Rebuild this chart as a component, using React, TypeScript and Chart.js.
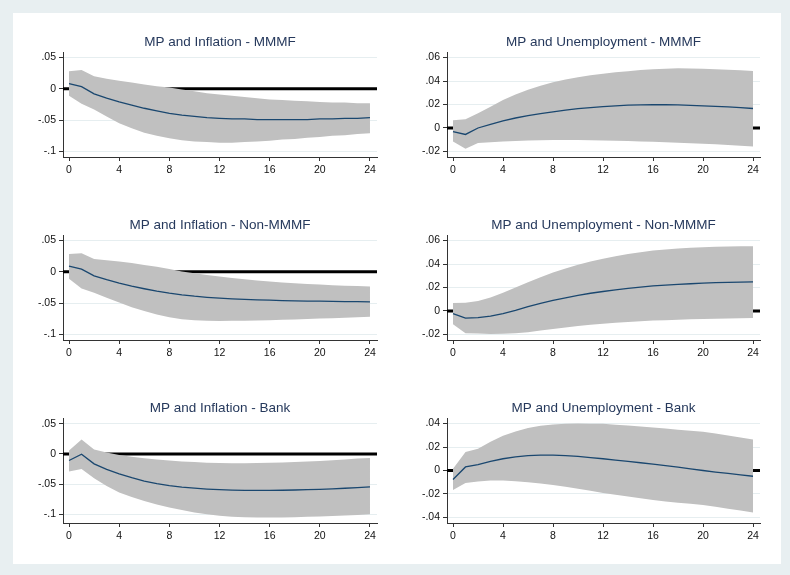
import React, { useEffect, useRef } from "react";
import { Chart, registerables } from "chart.js";

Chart.register(...registerables);

// ---------- data ----------
const horizon = [0, 1, 2, 3, 4, 5, 6, 7, 8, 9, 10, 11, 12, 13, 14, 15, 16, 17, 18, 19, 20, 21, 22, 23, 24];

// MP and Inflation - MMMF
const infMMMF = [0.0085, 0.0035, -0.008, -0.015, -0.021, -0.026, -0.031, -0.035, -0.039, -0.042, -0.044, -0.046, -0.047, -0.048, -0.048, -0.049, -0.049, -0.049, -0.049, -0.049, -0.048, -0.048, -0.047, -0.047, -0.046];
const infMMMFHi = [0.028, 0.03, 0.02, 0.016, 0.013, 0.01, 0.007, 0.004, 0.002, -0.001, -0.004, -0.007, -0.009, -0.011, -0.013, -0.015, -0.017, -0.018, -0.019, -0.02, -0.021, -0.022, -0.022, -0.023, -0.023];
const infMMMFLo = [-0.011, -0.024, -0.033, -0.044, -0.055, -0.063, -0.07, -0.075, -0.079, -0.082, -0.084, -0.085, -0.086, -0.086, -0.085, -0.084, -0.083, -0.081, -0.08, -0.078, -0.077, -0.075, -0.074, -0.072, -0.071];

// MP and Unemployment - MMMF
const unMMMF = [-0.003, -0.0055, 0.0, 0.003, 0.006, 0.0085, 0.0105, 0.0122, 0.0138, 0.0152, 0.0164, 0.0174, 0.0182, 0.0189, 0.0194, 0.0197, 0.0198, 0.0198, 0.0196, 0.0193, 0.0189, 0.0184, 0.0179, 0.0173, 0.0166];
const unMMMFHi = [0.0066, 0.0074, 0.0125, 0.018, 0.0238, 0.0285, 0.0325, 0.036, 0.039, 0.0413, 0.0432, 0.0448, 0.0462, 0.0474, 0.0484, 0.0493, 0.05, 0.0505, 0.0508, 0.0507, 0.0504, 0.05, 0.0496, 0.0491, 0.0486];
const unMMMFLo = [-0.0114, -0.0177, -0.0128, -0.0122, -0.0116, -0.0111, -0.0107, -0.0104, -0.0103, -0.0102, -0.0103, -0.0104, -0.0106, -0.0108, -0.0111, -0.0114, -0.0117, -0.0121, -0.0125, -0.013, -0.0134, -0.0139, -0.0145, -0.0151, -0.0157];

// MP and Inflation - Non-MMMF
const infNon = [0.009, 0.0042, -0.0065, -0.0125, -0.018, -0.0228, -0.027, -0.0308, -0.034, -0.0367, -0.0389, -0.0406, -0.042, -0.0431, -0.044, -0.0447, -0.0453, -0.0458, -0.0462, -0.0466, -0.0469, -0.0472, -0.0474, -0.0476, -0.0478];
const infNonHi = [0.0285, 0.0296, 0.0205, 0.0185, 0.0165, 0.0142, 0.011, 0.008, 0.0045, 0.0007, -0.0022, -0.005, -0.0075, -0.0097, -0.0117, -0.0137, -0.0155, -0.017, -0.0183, -0.0194, -0.0204, -0.0213, -0.0221, -0.0228, -0.0235];
const infNonLo = [-0.011, -0.0265, -0.0335, -0.0415, -0.049, -0.0565, -0.0625, -0.068, -0.0725, -0.0755, -0.0772, -0.078, -0.0783, -0.0782, -0.078, -0.0776, -0.0772, -0.0766, -0.076, -0.0753, -0.0746, -0.0739, -0.0731, -0.0723, -0.0715];

// MP and Unemployment - Non-MMMF
const unNon = [-0.0023, -0.006, -0.0057, -0.0043, -0.0022, 0.0005, 0.0037, 0.0065, 0.009, 0.0112, 0.0133, 0.0151, 0.0166, 0.018, 0.0193, 0.0204, 0.0213, 0.0221, 0.0227, 0.0232, 0.0237, 0.0241, 0.0244, 0.0246, 0.0248];
const unNonHi = [0.0068, 0.007, 0.0085, 0.0115, 0.0155, 0.02, 0.0245, 0.0288, 0.0327, 0.0362, 0.0394, 0.0421, 0.0445, 0.0467, 0.0486, 0.0501, 0.0514, 0.0524, 0.0532, 0.0538, 0.0543, 0.0547, 0.055, 0.0551, 0.0552];
const unNonLo = [-0.0113, -0.019, -0.0192, -0.0195, -0.0194, -0.019, -0.0181, -0.0167, -0.0153, -0.014, -0.0128, -0.0117, -0.0108, -0.01, -0.0093, -0.0087, -0.0082, -0.0078, -0.0074, -0.0071, -0.0068, -0.0066, -0.0064, -0.0062, -0.006];

// MP and Inflation - Bank
const infBank = [-0.011, -0.0005, -0.0165, -0.0255, -0.033, -0.0395, -0.045, -0.0492, -0.0525, -0.055, -0.0568, -0.0582, -0.0592, -0.0599, -0.0603, -0.0605, -0.0604, -0.0602, -0.0598, -0.0593, -0.0587, -0.0579, -0.0569, -0.0558, -0.0545];
const infBankHi = [0.0055, 0.024, 0.0075, 0.0025, -0.0018, -0.0048, -0.0072, -0.0093, -0.011, -0.0124, -0.0136, -0.0145, -0.015, -0.0153, -0.0154, -0.0152, -0.0148, -0.0142, -0.0135, -0.0126, -0.0116, -0.0104, -0.0091, -0.0078, -0.0066];
const infBankLo = [-0.029, -0.025, -0.0405, -0.053, -0.064, -0.0715, -0.078, -0.084, -0.089, -0.093, -0.097, -0.1, -0.1025, -0.104, -0.105, -0.1055, -0.1055, -0.1052, -0.1048, -0.1043, -0.1037, -0.103, -0.1022, -0.1012, -0.1002];

// MP and Unemployment - Bank
const unBank = [-0.0077, 0.003, 0.005, 0.0077, 0.01, 0.0116, 0.0126, 0.0131, 0.0131, 0.0127, 0.012, 0.011, 0.01, 0.0089, 0.0077, 0.0066, 0.0054, 0.0041, 0.0028, 0.0014, 0.0, -0.0013, -0.0025, -0.0037, -0.0049];
const unBankHi = [0.0014, 0.0157, 0.0186, 0.0245, 0.0295, 0.0333, 0.0362, 0.0381, 0.0392, 0.0398, 0.04, 0.0399, 0.0397, 0.039, 0.0383, 0.0375, 0.0366, 0.0357, 0.0348, 0.0339, 0.0329, 0.0315, 0.0299, 0.0282, 0.0264];
const unBankLo = [-0.0166, -0.0106, -0.0093, -0.0086, -0.0086, -0.0091, -0.0099, -0.011, -0.0123, -0.0138, -0.0155, -0.0173, -0.0191, -0.0207, -0.0222, -0.0237, -0.0251, -0.0263, -0.0274, -0.0284, -0.0294, -0.0309, -0.0325, -0.0341, -0.0357];

// tick labels
const xTickValues = [0, 4, 8, 12, 16, 20, 24];
const infTickValues = [-0.1, -0.05, 0, 0.05];
const infTickLabels = ["-.1", "-.05", "0", ".05"];
const unTickValues = [-0.02, 0, 0.02, 0.04, 0.06];
const unTickLabels = ["-.02", "0", ".02", ".04", ".06"];
const unBankTickValues = [-0.04, -0.02, 0, 0.02, 0.04];
const unBankTickLabels = ["-.04", "-.02", "0", ".02", ".04"];

const titles = [
  "MP and Inflation - MMMF",
  "MP and Unemployment - MMMF",
  "MP and Inflation - Non-MMMF",
  "MP and Unemployment - Non-MMMF",
  "MP and Inflation - Bank",
  "MP and Unemployment - Bank",
];

// ---------- style ----------
const FONT = '"Liberation Sans", Arial, Helvetica, sans-serif';
const NAVY = "#1a476f";
const BAND = "#c0c0c0";
const GRID = "#e6eef0";
const AXIS = "#333333";
const TITLE_COLOR = "#26395c";
const OUTER_BG = "#e8eff1";

type PanelCfg = {
  title: string;
  irf: number[];
  hi: number[];
  lo: number[];
  yMin: number;
  yMax: number;
  tickValues: number[];
  tickLabels: string[];
  col: number;
  row: number;
};

const panels: PanelCfg[] = [
  { title: titles[0], irf: infMMMF, hi: infMMMFHi, lo: infMMMFLo, yMin: -0.1088, yMax: 0.0588, tickValues: infTickValues, tickLabels: infTickLabels, col: 0, row: 0 },
  { title: titles[1], irf: unMMMF, hi: unMMMFHi, lo: unMMMFLo, yMin: -0.0247, yMax: 0.0647, tickValues: unTickValues, tickLabels: unTickLabels, col: 1, row: 0 },
  { title: titles[2], irf: infNon, hi: infNonHi, lo: infNonLo, yMin: -0.1088, yMax: 0.0588, tickValues: infTickValues, tickLabels: infTickLabels, col: 0, row: 1 },
  { title: titles[3], irf: unNon, hi: unNonHi, lo: unNonLo, yMin: -0.0247, yMax: 0.0647, tickValues: unTickValues, tickLabels: unTickLabels, col: 1, row: 1 },
  { title: titles[4], irf: infBank, hi: infBankHi, lo: infBankLo, yMin: -0.1145, yMax: 0.0595, tickValues: infTickValues, tickLabels: infTickLabels, col: 0, row: 2 },
  { title: titles[5], irf: unBank, hi: unBankHi, lo: unBankLo, yMin: -0.0447, yMax: 0.0447, tickValues: unBankTickValues, tickLabels: unBankTickLabels, col: 1, row: 2 },
];

// layout of canvases
const COL_LEFT = [13, 395];
const COL_WIDTH = [382, 386];
const COL_AXIS_W = [50, 52];
const COL_PAD_R = [18, 21];
const ROW_TOP = [13, 196, 379];
const CANVAS_H = 184;

const zeroLinePlugin = {
  id: "zeroLine",
  beforeDatasetsDraw(chart: any) {
    const { ctx, chartArea, scales } = chart;
    const y = scales.y.getPixelForValue(0);
    ctx.save();
    ctx.strokeStyle = "#000000";
    ctx.lineWidth = 3;
    ctx.beginPath();
    ctx.moveTo(chartArea.left, y);
    ctx.lineTo(chartArea.right, y);
    ctx.stroke();
    ctx.restore();
  },
};

function Panel({ cfg }: { cfg: PanelCfg }) {
  const ref = useRef<HTMLCanvasElement | null>(null);
  const w = COL_WIDTH[cfg.col];

  useEffect(() => {
    if (!ref.current) return;
    const pts = (ys: number[]) => horizon.map((x, i) => ({ x, y: ys[i] }));
    const chart = new Chart(ref.current, {
      type: "line",
      data: {
        datasets: [
          { data: pts(cfg.irf), borderColor: NAVY, borderWidth: 1.3, pointRadius: 0, fill: false, tension: 0, order: 0 } as any,
          { data: pts(cfg.hi), borderColor: "rgba(0,0,0,0)", borderWidth: 0, backgroundColor: BAND, pointRadius: 0, fill: 2, tension: 0, order: 1 } as any,
          { data: pts(cfg.lo), borderColor: "rgba(0,0,0,0)", borderWidth: 0, pointRadius: 0, fill: false, tension: 0, order: 2 } as any,
        ],
      },
      options: {
        responsive: false,
        animation: false,
        devicePixelRatio: 1,
        layout: { padding: { left: 0, right: COL_PAD_R[cfg.col], top: 0, bottom: 0 } },
        plugins: {
          legend: { display: false },
          tooltip: { enabled: false },
          title: {
            display: true,
            text: cfg.title,
            color: TITLE_COLOR,
            fullSize: false,
            font: { family: FONT, size: 13.5, weight: "normal" as any, lineHeight: 1.2 },
            padding: { top: 21, bottom: 1.8 },
          },
        },
        scales: {
          x: {
            type: "linear",
            min: -0.48,
            max: 24.56,
            afterBuildTicks: (s: any) => {
              s.ticks = xTickValues.map((v) => ({ value: v }));
            },
            afterFit: (s: any) => {
              s.height = 40;
            },
            grid: { drawOnChartArea: false, tickLength: 4, color: AXIS, tickColor: AXIS },
            border: { display: true, color: AXIS, width: 1 },
            ticks: {
              font: { family: FONT, size: 10.5 },
              color: "#111111",
              padding: 3,
              maxRotation: 0,
              autoSkip: false,
              callback: (v: any) => String(v),
            },
          },
          y: {
            type: "linear",
            min: cfg.yMin,
            max: cfg.yMax,
            afterBuildTicks: (s: any) => {
              s.ticks = cfg.tickValues.map((v) => ({ value: v }));
            },
            afterFit: (s: any) => {
              s.width = COL_AXIS_W[cfg.col];
            },
            grid: { color: GRID, tickColor: AXIS, tickLength: 4, lineWidth: 1 },
            border: { display: true, color: AXIS, width: 1 },
            ticks: {
              font: { family: FONT, size: 10.5 },
              color: "#111111",
              padding: 3,
              autoSkip: false,
              callback: (v: any) => {
                const i = cfg.tickValues.findIndex((t) => Math.abs(t - Number(v)) < 1e-9);
                return i >= 0 ? cfg.tickLabels[i] : "";
              },
            },
          },
        },
      },
      plugins: [zeroLinePlugin],
    });
    return () => chart.destroy();
  }, []);

  return (
    <canvas
      ref={ref}
      width={w}
      height={CANVAS_H}
      style={{
        position: "absolute",
        left: COL_LEFT[cfg.col],
        top: ROW_TOP[cfg.row],
        width: w,
        height: CANVAS_H,
      }}
    />
  );
}

export default function App() {
  return (
    <div
      style={{
        position: "fixed",
        left: 0,
        top: 0,
        width: 790,
        height: 575,
        background: OUTER_BG,
        overflow: "hidden",
      }}
    >
      <div
        style={{
          position: "absolute",
          left: 13,
          top: 13,
          width: 768,
          height: 551,
          background: "#ffffff",
        }}
      />
      {panels.map((p, i) => (
        <Panel key={i} cfg={p} />
      ))}
    </div>
  );
}
